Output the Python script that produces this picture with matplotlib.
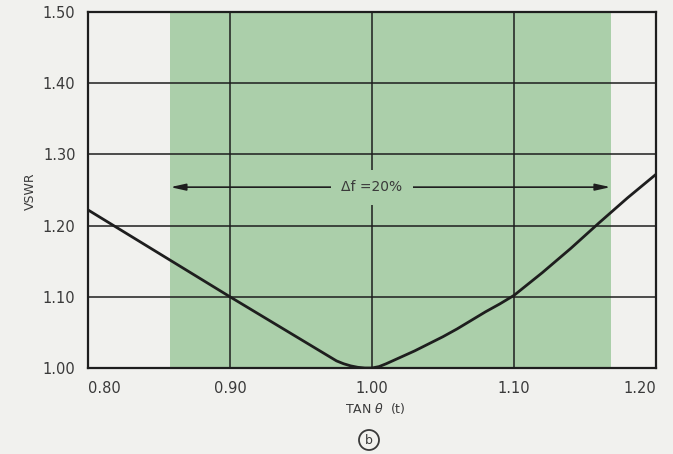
import matplotlib
matplotlib.use("Agg")
import matplotlib.pyplot as plt
from matplotlib.patches import Circle

# VSWR versus tan(theta) for the matching section
tan_theta = [0.80, 0.85, 0.90, 0.92, 0.94, 0.95, 0.96, 0.97, 0.975, 0.98, 0.985,
             0.99, 0.995, 1.00, 1.005, 1.01, 1.02, 1.03, 1.04, 1.05, 1.06, 1.07,
             1.08, 1.09, 1.10, 1.12, 1.14, 1.16, 1.18, 1.20]
vswr = [1.222, 1.161, 1.100, 1.076, 1.052, 1.040, 1.028, 1.016, 1.010, 1.006, 1.003,
        1.001, 1.000, 1.000, 1.002, 1.006, 1.015, 1.024, 1.034, 1.044, 1.055, 1.067,
        1.079, 1.090, 1.102, 1.134, 1.168, 1.204, 1.239, 1.272]

# Bandwidth span and its label
band_lo, band_hi = 0.858, 1.168
band_label = "\u0394f =20%"
band_level = 1.254

x_ticks = [0.80, 0.90, 1.00, 1.10, 1.20]
x_tick_labels = ["0.80", "0.90", "1.00", "1.10", "1.20"]
y_ticks = [1.00, 1.10, 1.20, 1.30, 1.40, 1.50]
y_tick_labels = ["1.00", "1.10", "1.20", "1.30", "1.40", "1.50"]

bg = "#f1f1ee"
green = "#abcfaa"
ink = "#1e1e1e"
text_col = "#3a3a3a"

plt.rcParams["font.family"] = ["DejaVu Sans"]

fig = plt.figure(figsize=(6.73, 4.54), dpi=100, facecolor=bg)
ax = fig.add_axes([0.1308, 0.1894, 0.8439, 0.7842], facecolor=bg)

ax.axvspan(band_lo, band_hi, color=green, lw=0, zorder=0.3)

ax.set_xlim(0.80, 1.20)
ax.set_ylim(1.00, 1.50)
ax.set_xticks(x_ticks)
ax.set_xticklabels(x_tick_labels)
ax.set_yticks(y_ticks)
ax.set_yticklabels(y_tick_labels)
ax.tick_params(length=0, labelsize=10.5, labelcolor=text_col)
ax.tick_params(axis="x", pad=9)
ax.tick_params(axis="y", pad=9)
xl = ax.get_xticklabels()
xl[0].set_ha("left")
xl[-1].set_ha("right")

ax.set_axisbelow(True)
ax.grid(True, color=ink, lw=1.1)
for s in ax.spines.values():
    s.set_color(ink)
    s.set_linewidth(1.6)

ax.plot(tan_theta, vswr, color=ink, lw=2.0, zorder=3,
        solid_capstyle="butt", solid_joinstyle="round")

ax.annotate("", xy=(band_lo, band_level), xytext=(band_hi, band_level),
            arrowprops=dict(arrowstyle="<|-|>,head_length=0.9,head_width=0.2",
                            color=ink, lw=1.2, shrinkA=0, shrinkB=0), zorder=4)
ax.text(1.0, band_level, band_label, ha="center", va="center", fontsize=10,
        color=text_col, zorder=5,
        bbox=dict(boxstyle="square,pad=0.75", facecolor=green, edgecolor="none"))

fig.text(30 / 673, 1 - 191 / 454, "VSWR", rotation=90, ha="center", va="center",
         fontsize=9, color=text_col)
fig.text(375 / 673, 1 - 409 / 454, r"TAN $\theta$  (t)", ha="center", va="center",
         fontsize=9, color=text_col)

cx, cy = 369 / 673, 1 - 440 / 454
fig.text(cx, cy, "b", ha="center", va="center", fontsize=9, color=text_col)
fig.patches.append(Circle((369, 454 - 440), 10, transform=None, fill=False,
                          edgecolor=text_col, lw=1.3))

fig.savefig("out.png", dpi=100, facecolor=bg)
